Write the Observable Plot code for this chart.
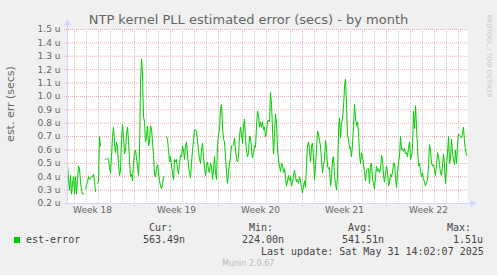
<!DOCTYPE html>
<html>
<head>
<meta charset="utf-8">
<script src="https://cdn.jsdelivr.net/npm/d3@7"></script>
<script src="https://cdn.jsdelivr.net/npm/@observablehq/plot@0.6"></script>
<style>
  html, body { margin: 0; padding: 0; background: #f0f0f0; }
  #wrap { position: relative; width: 497px; height: 275px; overflow: hidden; background: #f0f0f0; }
  .t { position: absolute; white-space: pre; line-height: 12px; }
  .mono { font-family: "DejaVu Sans Mono", monospace; font-size: 10px; color: #444; }
</style>
</head>
<body>
<div id="wrap"></div>
<script>
// ---- data ----
const title = "NTP kernel PLL estimated error (secs) - by month";
const yLabel = "est. err (secs)";
const seriesName = "est-error";
const rangeStart = "2025-04-28T10:00Z";
const rangeEnd = "2025-05-31T18:00Z";
const stepHours = 2;
const yTicks = [0.2, 0.3, 0.4, 0.5, 0.6, 0.7, 0.8, 0.9, 1.0, 1.1, 1.2, 1.3, 1.4, 1.5];
const weekLabels = ["Week 18", "Week 19", "Week 20", "Week 21", "Week 22"];
const statNames = ["Cur:", "Min:", "Avg:", "Max:"];
const statValues = ["563.49n", "224.00n", "541.51n", "1.51u"];
const lastUpdate = "Last update: Sat May 31 14:02:07 2025";
const values = [
  0.50,0.38,0.30,0.41,0.27,0.35,0.40,0.27,0.40,0.27,0.38,0.48,0.46,0.36,0.30,0.27,0.27,null,0.31,0.34,
  0.36,0.40,0.38,0.39,0.40,0.40,0.42,0.36,0.29,null,0.35,0.36,0.70,0.63,null,null,null,null,0.53,0.53,
  0.54,0.53,0.47,0.43,0.55,0.70,0.77,0.66,0.58,0.66,0.62,0.50,0.41,0.45,0.68,0.79,0.70,0.57,0.60,0.72,
  0.77,0.67,0.53,0.40,0.42,0.37,0.50,0.58,0.60,0.54,0.48,0.41,0.57,1.09,1.28,1.16,0.85,0.81,0.66,0.70,
  0.78,0.63,0.66,0.78,0.76,0.66,0.56,0.42,0.40,0.46,0.49,0.44,0.37,0.33,0.31,0.35,0.40,null,null,0.70,
  0.68,0.60,0.51,0.55,0.48,0.43,0.38,0.53,0.51,0.53,0.46,0.42,0.50,0.56,0.55,0.63,0.60,0.53,0.63,0.66,
  0.57,0.48,0.43,0.39,0.50,0.60,0.67,0.75,0.75,0.74,0.67,0.60,0.53,0.50,0.60,0.65,0.55,0.46,0.41,0.48,
  0.51,0.45,0.43,0.50,0.48,0.38,0.45,0.55,0.43,0.38,0.63,0.72,0.75,0.91,0.94,0.77,0.68,0.66,0.55,0.43,
  0.35,0.43,0.50,0.55,0.63,0.63,0.64,0.69,0.60,0.53,0.51,0.55,0.70,0.77,0.72,0.65,0.78,0.83,0.67,0.60,
  0.55,0.58,0.70,0.70,0.60,0.54,0.58,0.63,0.62,0.77,0.89,0.86,0.77,0.81,0.77,0.81,0.75,0.77,0.70,0.73,
  0.82,0.82,0.81,1.03,0.94,0.76,0.57,0.70,0.87,0.80,0.60,0.53,0.48,0.44,0.50,0.49,0.43,0.46,0.40,0.33,
  0.37,0.41,0.37,0.40,0.33,0.36,0.40,0.45,0.40,0.36,0.38,0.35,0.40,0.37,0.32,0.28,0.33,0.37,0.32,0.48,
  0.63,0.66,0.60,0.51,0.63,0.65,0.55,0.38,0.48,0.60,0.74,0.72,0.67,0.63,0.53,0.43,0.49,0.53,0.67,0.60,
  0.48,0.46,0.47,0.33,0.40,0.53,0.55,0.40,0.35,0.30,0.40,0.74,0.84,0.69,0.80,0.83,0.92,1.07,1.13,0.94,
  0.71,0.68,0.61,0.62,0.55,0.64,0.77,0.94,0.84,0.78,0.81,0.73,0.57,0.50,0.58,0.55,0.49,0.43,0.37,0.45,
  0.46,0.46,0.35,0.49,0.50,0.38,0.35,0.31,0.40,0.48,0.44,0.46,0.43,0.46,0.56,0.53,0.41,0.36,0.42,0.48,
  0.44,0.33,0.36,0.42,0.40,0.43,0.50,0.50,0.40,0.32,0.43,0.51,0.55,0.70,0.60,0.61,0.59,0.61,0.57,0.58,
  0.55,0.62,0.66,0.53,0.55,0.62,0.89,0.76,0.93,0.77,0.62,0.48,0.50,0.44,0.40,0.43,0.38,0.36,0.33,0.36,
  0.37,0.49,0.64,0.60,0.50,0.48,0.49,0.45,0.41,0.49,0.58,0.55,0.49,0.43,0.41,0.48,0.57,0.48,0.35,0.48,
  0.57,0.70,0.50,0.53,0.68,0.57,0.53,0.49,0.60,0.50,0.64,0.72,0.71,0.70,0.69,0.72,0.77,0.66,0.60,0.56
];

// ---- derived ----
const t0 = new Date(rangeStart);
const t1 = new Date(rangeEnd);
const data = values.map((v, i) => ({ t: new Date(+t0 + i * stepHours * 3600e3), v }));
const dayLines = d3.utcDay.range(d3.utcDay.ceil(t0), t1);
const weekLines = d3.utcSunday.range(d3.utcSunday.ceil(t0), t1);
const weekMids = d3.utcSunday.range(d3.utcSunday.floor(t0), t1)
  .map(d => new Date(+d + 3.5 * 864e5)).filter(d => d >= t0 && d <= t1)
  .map((d, i) => ({ t: d, label: weekLabels[i] }));

const axisColor = "#cfd6f8";
const minorGrid = "#c8c8c8";
const majorGrid = "#eeaaaa";
const fontColor = "#666";

const chart = Plot.plot({
  width: 497,
  height: 275,
  marginLeft: 67,
  marginRight: 30,
  marginTop: 29,
  marginBottom: 72,
  style: { background: "transparent", fontFamily: "DejaVu Sans, sans-serif", fontSize: "9px", overflow: "visible" },
  x: { type: "utc", domain: [t0, t1], axis: null },
  y: { domain: [0.2, 1.5], axis: null },
  marks: [
    Plot.frame({ fill: "white", stroke: null }),
    Plot.ruleX(dayLines, { stroke: minorGrid, strokeDasharray: "1,1", insetBottom: -2 }),
    Plot.ruleX(weekLines, { stroke: majorGrid, strokeDasharray: "1,1", insetBottom: -3 }),
    Plot.ruleY(yTicks.slice(1), { stroke: majorGrid, strokeDasharray: "1,1", insetLeft: -3 }),
    Plot.line(data, { x: "t", y: "v", stroke: "#00cc00", strokeWidth: 1 }),
    Plot.ruleX([t0], { stroke: axisColor, insetTop: -5, insetBottom: -2 }),
    Plot.ruleY([0.2], { stroke: axisColor, insetLeft: -3, insetRight: -4 }),
    Plot.dot([t0], { x: d => d, frameAnchor: "top", symbol: "triangle", r: 2.6, fill: axisColor, stroke: null, dy: -6 }),
    Plot.dot([t1], { x: d => d, frameAnchor: "bottom", symbol: "triangle", rotate: 90, r: 2.6, fill: axisColor, stroke: null, dx: 5 }),
    Plot.text(yTicks, { y: d => d, frameAnchor: "left", dx: -7, textAnchor: "end", text: d => d.toFixed(1) + " u", fill: fontColor, fontSize: 9 }),
    Plot.text(weekMids, { x: "t", frameAnchor: "bottom", dy: 9, text: "label", fill: fontColor, fontSize: 9 })
  ]
});
const wrap = document.getElementById("wrap");
chart.style.position = "absolute";
chart.style.left = "0";
chart.style.top = "0";
wrap.appendChild(chart);

function addText(txt, left, centerY, cls, extra) {
  const el = document.createElement("div");
  el.className = "t " + (cls || "");
  el.textContent = txt;
  el.style.left = left + "px";
  el.style.top = (centerY - 6) + "px";
  if (extra) Object.assign(el.style, extra);
  wrap.appendChild(el);
  return el;
}

// title
addText(title, 0, 19.5, "", { width: "497px", textAlign: "center", fontFamily: "DejaVu Sans, sans-serif", fontSize: "13px", color: "#666" });
// y label
addText(yLabel, 11, 104, "", { fontFamily: "DejaVu Sans, sans-serif", fontSize: "11px", color: "#666", transform: "translate(-50%, 0) rotate(-90deg)", transformOrigin: "50% 50%" });
// right credit
addText("RRDTOOL / TOBI OETIKER", 489, 56, "", { fontFamily: "DejaVu Sans, sans-serif", fontSize: "6.5px", color: "#c8c8c8", transform: "translate(-50%, 0) rotate(90deg)", transformOrigin: "50% 50%" });

// legend
const sw = document.createElement("div");
Object.assign(sw.style, { position: "absolute", left: "14px", top: "237px", width: "6px", height: "6px", background: "#00cc00" });
wrap.appendChild(sw);
addText(seriesName, 26, 240, "mono");
const headLeft = [149, 249, 348, 447];
const valLeft = [143, 242, 342, 453];
statNames.forEach((s, i) => addText(s, headLeft[i], 228, "mono"));
statValues.forEach((s, i) => addText(s, valLeft[i], 240, "mono"));
addText(lastUpdate, 261, 252, "mono");
addText("Munin 2.0.67", 222, 264, "", { fontFamily: "DejaVu Sans, sans-serif", fontSize: "8px", color: "#bbb" });
</script>
</body>
</html>
